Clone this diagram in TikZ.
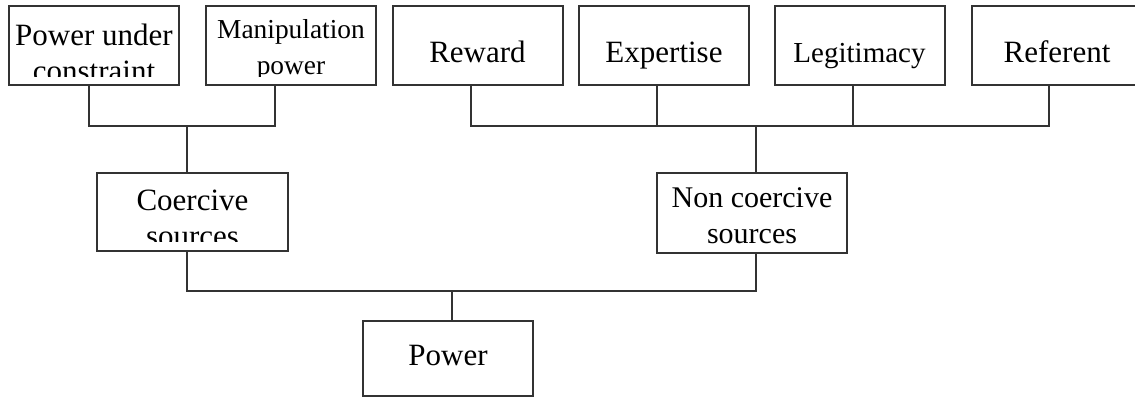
\documentclass[tikz,border=0pt]{standalone}
\usepackage{fontspec}
\setmainfont{Liberation Serif}
\usetikzlibrary{positioning,calc}

\begin{document}
\begin{tikzpicture}[
  x=0.5pt, y=-0.5pt,
  box/.style={
    rectangle, draw=black!80, line width=1pt, fill=white,
    minimum width=85pt, minimum height=39.5pt,
    font=\fontsize{15.5}{18}\selectfont, align=center, inner sep=1pt,
    text depth=0pt
  },
  link/.style={draw=black!80, line width=1pt},
  mask/.style={fill=white}
]
\useasboundingbox (0,0) rectangle (1135,398);

% Top row: the single sources
\node[box, text height=35.5pt] (under) at (94,45.5) {Power under\\constraint};
\node[box, text height=28.5pt, font=\fontsize{13.7}{18}\selectfont] (manip) at (291,45.5) {Manipulation\\power};
\node[box, text height=16.5pt] (reward) at (477.5,45.5) {Reward};
\node[box, text height=16.5pt] (expert) at (664,45.5) {Expertise};
\node[box, text height=16.5pt, font=\fontsize{14.5}{18}\selectfont] (legit) at (859.5,45.5) {Legitimacy};
\node[box, text height=16.5pt] (referent) at (1057,45.5) {Referent};

% Middle row
\node[box, minimum width=95.5pt, minimum height=39pt, text height=34pt] (coe) at (192.5,212) {Coercive\\sources};
\node[box, minimum width=95pt, minimum height=40pt, text height=30pt, font=\fontsize{15}{18}\selectfont] (nco) at (752,213) {Non coercive\\sources};

% Bottom
\node[box, minimum height=37.5pt, text height=6.5pt] (power) at (448,358.5) {Power};

% cut-off text lines
\fill[mask] ([shift={(1.2pt,1.2pt)}]under.south west) rectangle ([shift={(-1.2pt,4.5pt)}]under.south east);
\fill[mask] ([shift={(1.2pt,1.2pt)}]manip.south west) rectangle ([shift={(-1.2pt,4.5pt)}]manip.south east);
\fill[mask] ([shift={(1.2pt,1.2pt)}]coe.south west) rectangle ([shift={(-1.2pt,5pt)}]coe.south east);

% Junctions
\coordinate (topL) at (187,126);
\coordinate (topR) at (756,126);
\coordinate (botJ) at (452,291);

% Coercive branch
\draw[link] ([xshift=-2.5pt]under.south) |- (topL) -| ([xshift=-8pt]manip.south);
\draw[link] (topL) -- ([xshift=-2.75pt]coe.north);

% Non coercive branch
\draw[link] ([xshift=-3.25pt]reward.south) |- (topR) -| ([xshift=-4pt]referent.south);
\draw[link] ([xshift=-3.5pt]expert.south) -- ([xshift=-3.5pt]expert.south |- topR);
\draw[link] ([xshift=-3.25pt]legit.south) -- ([xshift=-3.25pt]legit.south |- topR);
\draw[link] (topR) -- ([xshift=2pt]nco.north);

% Down to power
\draw[link] ([xshift=-2.75pt]coe.south) |- (botJ) -| ([xshift=2pt]nco.south);
\draw[link] (botJ) -- ([xshift=2pt]power.north);

\end{tikzpicture}
\end{document}
